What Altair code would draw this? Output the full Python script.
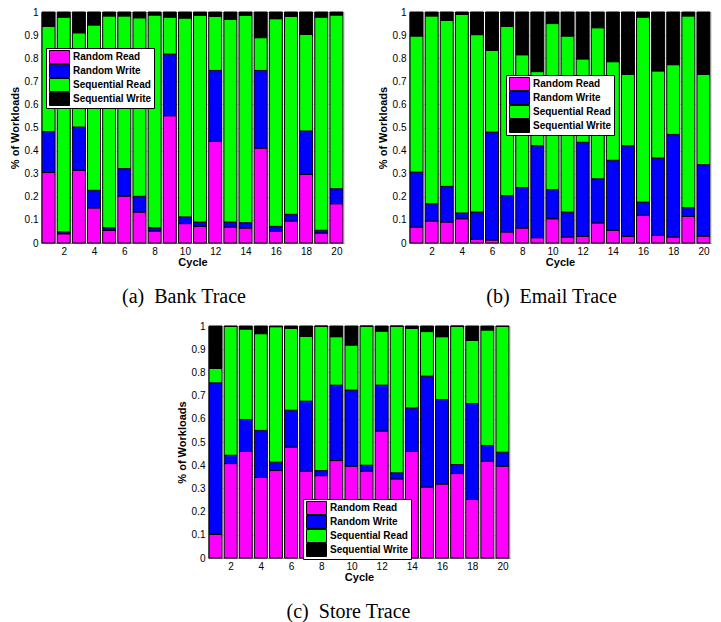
import altair as alt
import pandas as pd

cycles = list(range(1, 21))
types = ["Random Read", "Random Write", "Sequential Read", "Sequential Write"]
colors = ["#FF00FF", "#0000FF", "#00FF00", "#000000"]

# Bank trace (fractions per cycle)
bank_rr = [0.305, 0.040, 0.315, 0.152, 0.055, 0.203, 0.134, 0.052, 0.551, 0.084,
           0.072, 0.440, 0.069, 0.065, 0.411, 0.050, 0.095, 0.297, 0.043, 0.170]
bank_rw = [0.177, 0.008, 0.187, 0.076, 0.011, 0.119, 0.068, 0.014, 0.267, 0.029,
           0.019, 0.307, 0.022, 0.023, 0.336, 0.022, 0.029, 0.188, 0.012, 0.065]
bank_sr = [0.456, 0.930, 0.408, 0.716, 0.917, 0.661, 0.773, 0.921, 0.160, 0.861,
           0.894, 0.234, 0.877, 0.897, 0.142, 0.899, 0.857, 0.418, 0.923, 0.752]

# Email trace
email_rr = [0.069, 0.095, 0.091, 0.105, 0.016, 0.013, 0.048, 0.065, 0.023, 0.105,
            0.026, 0.029, 0.087, 0.055, 0.029, 0.120, 0.033, 0.026, 0.115, 0.030]
email_rw = [0.238, 0.075, 0.154, 0.025, 0.118, 0.467, 0.157, 0.175, 0.398, 0.126,
            0.108, 0.407, 0.191, 0.303, 0.392, 0.057, 0.335, 0.444, 0.038, 0.309]
email_sr = [0.589, 0.813, 0.719, 0.860, 0.768, 0.354, 0.733, 0.575, 0.321, 0.719,
            0.762, 0.361, 0.654, 0.427, 0.309, 0.801, 0.377, 0.302, 0.830, 0.391]

# Store trace
store_rr = [0.102, 0.407, 0.459, 0.347, 0.377, 0.478, 0.374, 0.355, 0.420, 0.396,
            0.374, 0.547, 0.341, 0.459, 0.306, 0.319, 0.364, 0.252, 0.417, 0.396]
store_rw = [0.653, 0.036, 0.138, 0.203, 0.036, 0.159, 0.302, 0.022, 0.325, 0.328,
            0.026, 0.198, 0.026, 0.188, 0.478, 0.364, 0.039, 0.414, 0.068, 0.060]
store_sr = [0.062, 0.555, 0.390, 0.417, 0.584, 0.353, 0.279, 0.622, 0.209, 0.194,
            0.599, 0.233, 0.632, 0.343, 0.192, 0.271, 0.596, 0.272, 0.498, 0.542]

FONT = "Liberation Sans"
SERIF = "Liberation Serif"
SWATCH = "M-1.43,-0.93L1.43,-0.93L1.43,0.93L-1.43,0.93Z"


def build_df(rr, rw, sr):
    rows = []
    for i, c in enumerate(cycles):
        sw = 1 - rr[i] - rw[i] - sr[i]
        lo = 0.0
        for k, v in enumerate([rr[i], rw[i], sr[i], sw]):
            rows.append({"cycle": c, "type": types[k], "k": k, "lo": lo, "hi": lo + v})
            lo += v
    return pd.DataFrame(rows)


def panel(rr, rw, sr, caption, lx, ly, w, h, dx):
    df = build_df(rr, rw, sr)
    ch = (
        alt.Chart(df)
        .transform_calculate(xa="datum.cycle - 0.43", xb="datum.cycle + 0.43")
        .mark_bar(stroke="black", strokeWidth=1, opacity=1)
        .encode(
            x=alt.X("xa:Q",
                    scale=alt.Scale(domain=[0.5, 20.5], nice=False, zero=False),
                    axis=alt.Axis(values=list(range(2, 21, 2)), format="d", title="Cycle",
                                  ticks=False, labelPadding=3, titleY=19,
                                  titleBaseline="middle")),
            x2="xb:Q",
            y=alt.Y("lo:Q",
                    scale=alt.Scale(domain=[0, 1], nice=False),
                    axis=alt.Axis(values=[round(i * 0.1, 1) for i in range(11)],
                                  format=".1~f", title="% of Workloads", ticks=False,
                                  labelPadding=3, titleX=-26, titleBaseline="middle")),
            y2="hi:Q",
            color=alt.Color("type:N",
                            scale=alt.Scale(domain=types, range=colors),
                            legend=alt.Legend(
                                orient="none", legendX=lx, legendY=ly, title=None,
                                fillColor="white", strokeColor="black", padding=2,
                                symbolType=SWATCH, symbolSize=196, clipHeight=14,
                                symbolStrokeColor="black", symbolStrokeWidth=1,
                                symbolOffset=4, labelOffset=6, rowPadding=0,
                                labelFont=FONT, labelFontSize=10, labelFontWeight="bold",
                                labelColor="black", cornerRadius=0)),
        )
        .properties(
            width=w, height=h,
            title=alt.TitleParams(caption, orient="bottom", font=SERIF, fontSize=20,
                                  fontWeight="normal", color="black", dx=dx, offset=20,
                                  anchor="middle"),
        )
    )
    return ch


a = panel(bank_rr, bank_rw, bank_sr, "(a)\u00a0 Bank Trace", 5, 36, 303, 231, -8.5)
b = panel(email_rr, email_rw, email_sr, "(b)\u00a0 Email Trace", 97, 63, 302, 231, -8.5)
c = panel(store_rr, store_rw, store_sr, "(c)\u00a0 Store Trace", 95, 173, 302, 232, -10.5)

spacer = (
    alt.Chart(pd.DataFrame({"v": [0]}))
    .mark_rect(opacity=0)
    .encode(x=alt.value(0), x2=alt.value(1), y=alt.value(0), y2=alt.value(1))
    .properties(width=134, height=232, view=alt.ViewBackground(stroke=None))
)

top = alt.hconcat(a, b, spacing=31).resolve_scale(color="independent").resolve_legend(color="independent")
bottom = alt.hconcat(spacer, c, spacing=0).resolve_scale(color="independent").resolve_legend(color="independent")

chart = (
    alt.vconcat(top, bottom, spacing=12)
    .resolve_scale(color="independent")
    .resolve_legend(color="independent")
    .properties(padding={"left": 0, "top": -2, "right": 0, "bottom": 0})
    .configure_view(stroke="black", strokeWidth=1)
    .configure_axis(labelFont=FONT, labelFontSize=10, labelFontWeight="bold", labelColor="black",
                    titleFont=FONT, titleFontSize=11, titleFontWeight="bold", titleColor="black",
                    domainColor="black", domainWidth=1, grid=False)
    .configure(background="white")
)

chart.save("out.html", embed_options={"renderer": "svg", "actions": False})
